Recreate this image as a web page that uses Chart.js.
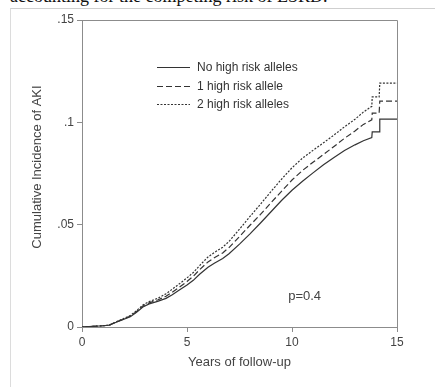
<!DOCTYPE html>
<html>
<head>
<meta charset="utf-8">
<script src="https://cdn.jsdelivr.net/npm/chart.js@4.4.1/dist/chart.umd.min.js"></script>
<style>
    body { margin: 0; background: #fff; }
    #wrap { position: relative; width: 435px; height: 387px; overflow: hidden; }
    #caption { position: absolute; left: 10px; top: -13px; font: 18px/18px "Liberation Serif", "DejaVu Serif", serif; color: #111; white-space: nowrap; }
    #frame { position: absolute; left: 10px; top: 8px; right: -2px; bottom: -2px; border-top: 1px solid #cfcfcf; border-left: 1px solid #dcdcdc; }
    #statusChart { position: absolute; left: 0; top: 0; }
</style>
</head>
<body>
<div id="wrap">
    <div id="caption">accounting for the competing risk of ESRD.</div>
    <div id="frame"></div>
    <canvas id="statusChart" width="435" height="387"></canvas>
</div>
<script>
// --- Data ---
const years = [0, 0.5, 1.0, 1.3, 1.6, 2.0, 2.3, 2.6, 2.9, 3.2, 3.6, 4.0, 4.3, 4.6, 5.0, 5.3, 5.6, 6.0, 6.3, 6.7,
    7.0, 7.5, 8.0, 8.5, 9.0, 9.5, 10.0, 10.5, 11.0, 11.5, 12.0, 12.5, 13.0, 13.4, 13.8, 13.82, 14.15, 14.18, 15.0];
const noRisk = [0, 0.0003, 0.0006, 0.0009, 0.0022, 0.0038, 0.0050, 0.0072, 0.0098, 0.0113, 0.0125, 0.0140, 0.0158, 0.0178,
    0.0205, 0.0228, 0.0258, 0.0292, 0.0312, 0.0335, 0.0358, 0.0405, 0.0455, 0.0508, 0.0563, 0.0618, 0.0668, 0.0712,
    0.0753, 0.0793, 0.0828, 0.0862, 0.0890, 0.0910, 0.0925, 0.0953, 0.0953, 0.1016, 0.1016];
const oneRisk = [0, 0.0003, 0.0006, 0.0009, 0.0023, 0.0040, 0.0053, 0.0076, 0.0103, 0.0118, 0.0132, 0.0150, 0.0170, 0.0192,
    0.0222, 0.0248, 0.0280, 0.0318, 0.0338, 0.0362, 0.0388, 0.0442, 0.0497, 0.0550, 0.0607, 0.0663, 0.0718, 0.0765,
    0.0805, 0.0843, 0.0882, 0.0922, 0.0958, 0.0990, 0.1012, 0.1045, 0.1045, 0.1104, 0.1104];
const twoRisk = [0, 0.0003, 0.0006, 0.0009, 0.0024, 0.0042, 0.0056, 0.0080, 0.0108, 0.0124, 0.0140, 0.0162, 0.0185, 0.0208,
    0.0240, 0.0266, 0.0300, 0.0342, 0.0364, 0.0390, 0.0418, 0.0478, 0.0540, 0.0600, 0.0662, 0.0722, 0.0778, 0.0825,
    0.0863, 0.0900, 0.0938, 0.0978, 0.1015, 0.1050, 0.1078, 0.1124, 0.1124, 0.1192, 0.1192];

const seriesNames = ['No high risk alleles', '1 high risk allele', '2 high risk alleles'];
const xTicks = [0, 5, 10, 15];
const yTicks = [0, 0.05, 0.1, 0.15];
const yTickLabels = ['0', '.05', '.1', '.15'];
const pValueText = 'p=0.4';

const FONT = '"Liberation Sans", Arial, sans-serif';
const AXIS_COLOR = '#8c8c8c';
const TEXT_COLOR = '#444';
const LINE_COLOR = '#333';

function toPoints(values) {
    return years.map((t, i) => ({ x: t, y: values[i] }));
}

// --- Plugins: plot frame, legend, annotation, y title ---
const framePlugin = {
    id: 'frame',
    afterDraw(chart) {
        const { ctx, chartArea: a } = chart;
        ctx.save();
        ctx.strokeStyle = AXIS_COLOR;
        ctx.lineWidth = 1;
        ctx.beginPath();
        ctx.moveTo(a.left, a.top + 0.5);
        ctx.lineTo(a.right + 0.5, a.top + 0.5);
        ctx.lineTo(a.right + 0.5, a.bottom);
        ctx.stroke();
        ctx.restore();
    }
};

const insideLegend = {
    id: 'insideLegend',
    afterDraw(chart) {
        const ctx = chart.ctx;
        ctx.save();
        ctx.font = '12px ' + FONT;
        ctx.textBaseline = 'middle';
        chart.data.datasets.forEach((ds, i) => {
            const y = Math.round(67 + i * 18.5) + 0.5;
            ctx.strokeStyle = ds.borderColor;
            ctx.lineWidth = ds.borderWidth;
            ctx.setLineDash(ds.borderDash || []);
            ctx.beginPath();
            ctx.moveTo(157, y);
            ctx.lineTo(190, y);
            ctx.stroke();
            ctx.setLineDash([]);
            ctx.fillStyle = '#333';
            ctx.fillText(ds.label, 197, y);
        });
        ctx.restore();
    }
};

const annotations = {
    id: 'annotations',
    afterDraw(chart) {
        const { ctx, scales } = chart;
        ctx.save();
        ctx.fillStyle = TEXT_COLOR;
        ctx.font = '13px ' + FONT;
        ctx.textAlign = 'center';
        ctx.textBaseline = 'middle';
        ctx.fillText(pValueText, scales.x.getPixelForValue(10.6), scales.y.getPixelForValue(0.0151));

        // y axis title
        ctx.translate(37, 167);
        ctx.rotate(-Math.PI / 2);
        ctx.fillText('Cumulative Incidence of AKI', 0, 0);
        ctx.restore();
    }
};

// --- Chart ---
const ctx = document.getElementById('statusChart').getContext('2d');
const styles = [[], [6, 3], [2, 1.5]];
const chart = new Chart(ctx, {
    type: 'line',
    data: {
        datasets: [noRisk, oneRisk, twoRisk].map((vals, i) => ({
            label: seriesNames[i],
            data: toPoints(vals),
            borderColor: LINE_COLOR,
            borderWidth: 1.2,
            borderDash: styles[i],
            pointRadius: 0,
            tension: 0,
            fill: false
        }))
    },
    options: {
        responsive: false,
        animation: false,
        devicePixelRatio: 1,
        layout: { padding: { top: 20, right: 38, left: 0, bottom: 0 } },
        plugins: { legend: { display: false }, tooltip: { enabled: false } },
        scales: {
            x: {
                type: 'linear',
                min: 0,
                max: 15,
                afterFit(scale) { scale.height = 60; },
                afterBuildTicks(scale) { scale.ticks = xTicks.map(v => ({ value: v })); },
                grid: { drawOnChartArea: false, drawTicks: true, tickLength: 5, color: AXIS_COLOR },
                border: { color: AXIS_COLOR, width: 1 },
                ticks: { color: TEXT_COLOR, padding: 3, font: { family: FONT, size: 12 }, maxRotation: 0 },
                title: {
                    display: true,
                    text: 'Years of follow-up',
                    color: TEXT_COLOR,
                    font: { family: FONT, size: 13 },
                    padding: { top: 0, bottom: 17 }
                }
            },
            y: {
                min: 0,
                max: 0.15,
                afterFit(scale) { scale.width = 82; },
                afterBuildTicks(scale) { scale.ticks = yTicks.map(v => ({ value: v })); },
                grid: { drawOnChartArea: false, drawTicks: true, tickLength: 5, color: AXIS_COLOR },
                border: { color: AXIS_COLOR, width: 1 },
                ticks: {
                    color: TEXT_COLOR,
                    padding: 3,
                    font: { family: FONT, size: 12 },
                    callback: function (value, index) { return yTickLabels[index]; }
                }
            }
        }
    },
    plugins: [framePlugin, insideLegend, annotations]
});
</script>
</body>
</html>
